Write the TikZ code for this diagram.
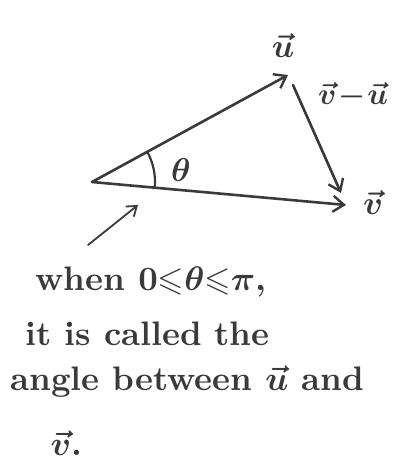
\documentclass[tikz,border=0pt]{standalone}
\usepackage{amsmath,amssymb}
\usetikzlibrary{arrows.meta,calc}
\definecolor{ink}{HTML}{3A3A3A}
\tikzset{
  vec/.style={draw=ink, line width=2.6pt, line cap=round, line join=round,
    -{Straight Barb[length=11pt,width=16pt,line width=2.4pt]}},
  pointer/.style={draw=ink, line width=1.8pt, line cap=round,
    -{Straight Barb[length=9pt,width=13pt,line width=1.8pt]}},
  lbl/.style={text=ink, inner sep=0pt, scale=3.3, font=\bfseries\boldmath},
  txt/.style={text=ink, inner sep=0pt, anchor=base west, scale=3.4, font=\bfseries\boldmath},
}
\begin{document}
\begin{tikzpicture}[x=1pt,y=-1pt]
\useasboundingbox (0,0) rectangle (392,463);
\coordinate (O) at (92,182);
\coordinate (U) at (288,75);
\coordinate (V) at (346,205);
\coordinate (D1) at (293,85);
\coordinate (D2) at (341,193);
\coordinate (P1) at (88,245);
\coordinate (P2) at (138,205);
\draw[vec] (O) -- (U);
\draw[vec] (O) -- (V);
\draw[vec] (D1) -- (D2);
\draw[draw=ink, line width=2.2pt] ($(O)+(-28.6:63)$) arc[start angle=-28.6, end angle=5.2, radius=63];
\node[lbl] (th) at (181,170) {$\theta$};
\node[lbl] (lu) at (283,46) {$\vec{u}$};
\node[lbl, scale=0.92] (lvu) at (353,96) {$\vec{v}\!-\!\vec{u}$};
\node[lbl] (lv) at (373,203) {$\vec{v}$};
\draw[pointer] (P1) -- (P2);
\node[txt] (t1) at (35,290) {when $0{\leqslant}\theta{\leqslant}\pi$,};
\node[txt] (t2) at (25,345) {it is called the};
\node[txt] (t3) at (10,390) {angle between $\vec{u}$ and};
\node[txt] (t4) at (50,455) {$\vec{v}$.};
\end{tikzpicture}
\end{document}
